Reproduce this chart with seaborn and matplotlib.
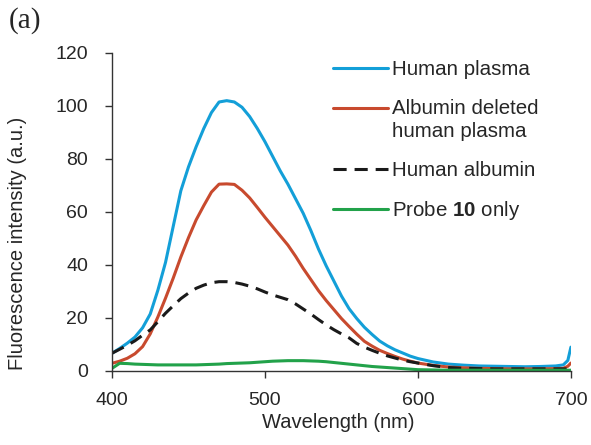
import numpy as np
import pandas as pd
import matplotlib
matplotlib.use("Agg")
import matplotlib.pyplot as plt
import seaborn as sns
from matplotlib.legend_handler import HandlerLine2D

# wavelengths (nm) and intensities
wavelength = list(range(400, 601, 5)) + list(range(610, 691, 10)) + [695, 698, 700]
human_plasma = [6.7, 8.5, 10.5, 12.8, 16.3, 21.5, 30.5, 41, 54.5, 68, 77,
                84.6, 91.5, 97.5, 101.5, 102, 101.5, 99.5, 96, 91.5, 86.5, 81,
                75.5, 70.5, 65, 59.5, 53, 46, 39.7, 34, 28.3, 23.5, 19.8, 16.5,
                13.8, 11.3, 9.5, 8.0, 6.8, 5.6, 4.7,
                3.4, 2.6, 2.2, 1.9, 1.8, 1.7, 1.6, 1.7, 1.9, 2.3, 4.0, 9.0]
albumin_deleted = [2.9, 3.7, 4.8, 6.5, 9.2, 14, 20.4, 27.5, 35, 43, 50.3, 57,
                   62.4, 67.5, 70.5, 70.6, 70.4, 68.2, 65.3, 61.7, 58, 54.5, 51,
                   47.5, 43.3, 38.7, 34.5, 30.3, 26.6, 23.2, 19.8, 16.8, 13.9,
                   11.2, 9.4, 7.8, 6.6, 5.5, 4.5, 3.7, 3.0,
                   2.1, 1.5, 1.2, 1.0, 0.9, 0.8, 0.8, 0.8, 0.9, 1.0, 1.8, 3.0]
human_albumin = [6.7, 8.2, 9.7, 11.4, 13.5, 15.5, 18.6, 21.8, 24.6, 27.3, 29.4,
                 31.2, 32.4, 33.3, 33.7, 33.7, 33.4, 32.8, 32, 31, 29.8, 28.7,
                 27.8, 26.9, 25.3, 23.4, 21.5, 19.4, 17.4, 15.6, 14, 12.5, 10.4,
                 9.0, 7.8, 6.7, 5.7, 4.9, 4.1, 3.5, 3.0,
                 2.0, 1.3, 1.0, 0.9, 0.8, 0.8, 0.8, 0.8, 0.8, 0.8, 0.8, 0.8]
probe_only = [1.0, 2.9, 2.8, 2.6, 2.5, 2.4, 2.3, 2.3, 2.3, 2.3, 2.3, 2.3, 2.4,
              2.5, 2.6, 2.8, 2.9, 3.0, 3.1, 3.3, 3.5, 3.7, 3.8, 3.9, 3.9, 3.9,
              3.8, 3.7, 3.5, 3.2, 2.9, 2.6, 2.3, 2.0, 1.7, 1.5, 1.3, 1.1, 0.9,
              0.7, 0.5,
              0.4, 0.3, 0.3, 0.3, 0.3, 0.3, 0.3, 0.3, 0.3, 0.3, 0.3, 0.3]

series = [
    ("Human plasma", human_plasma, "#139fd8", "-"),
    ("Albumin deleted\nhuman plasma", albumin_deleted, "#c84a2e", "-"),
    ("Human albumin", human_albumin, "#1a1a1a", (0, (4.3, 2.6))),
    ("Probe $\\mathbf{10}$ only", probe_only, "#22a24a", "-"),
]


class FirstLineHandler(HandlerLine2D):
    # put the legend line next to the first line of a two-line label
    def create_artists(self, legend, orig_handle, xdescent, ydescent,
                       width, height, fontsize, trans):
        artists = super().create_artists(legend, orig_handle, xdescent,
                                         ydescent, width, height, fontsize,
                                         trans)
        for a in artists:
            a.set_ydata(np.asarray(a.get_ydata()) + 0.6 * fontsize)
        return artists


sns.set_style("ticks")
plt.rcParams['font.family'] = ['Liberation Sans', 'DejaVu Sans']
plt.rcParams['mathtext.fontset'] = 'custom'
plt.rcParams['mathtext.rm'] = 'Liberation Sans'
plt.rcParams['mathtext.bf'] = 'Liberation Sans:bold'

fig = plt.figure(figsize=(5.91, 4.45), dpi=100)
ax = fig.add_axes([0.1895, 0.1663, 0.7765, 0.7147])

for label, values, color, ls in series:
    df = pd.DataFrame({"wl": wavelength, "val": values})
    sns.lineplot(data=df, x="wl", y="val", ax=ax, color=color, linestyle=ls,
                 linewidth=2.2, label=label)

ax.set_xlim(400, 700)
ax.set_ylim(0, 120)
ax.set_xticks([400, 500, 600, 700])
ax.set_yticks(range(0, 121, 20))
ax.tick_params(axis="both", labelsize=14, length=4.7, width=1,
               color="#333333", direction="out")
ax.tick_params(axis="y", pad=12.5)
ax.tick_params(axis="x", pad=10.5)
for side in ["top", "right"]:
    ax.spines[side].set_visible(False)
for side in ["left", "bottom"]:
    ax.spines[side].set_color("#333333")
    ax.spines[side].set_linewidth(1)

ax.set_xlabel("Wavelength (nm)", fontsize=14.5, va="top")
ax.set_ylabel("Fluorescence intensity (a.u.)", fontsize=14.5)
ax.xaxis.set_label_coords(0.4924, -0.133)
ax.yaxis.set_label_coords(-0.186, 0.4025)

handles, labels = ax.get_legend_handles_labels()
leg = ax.legend(handles, labels, loc="upper left",
                bbox_to_anchor=(0.481, 0.977), frameon=False,
                fontsize=14.8, handlelength=2.675, handletextpad=0.2,
                labelspacing=0.95, borderpad=0, borderaxespad=0,
                handler_map={handles[1]: FirstLineHandler()})
leg.get_texts()[1].set_linespacing(1.3)

fig.text(0.014, 0.985, "(a)", fontsize=21, family="Liberation Serif",
         ha="left", va="top")

fig.savefig("out.png", dpi=100)
